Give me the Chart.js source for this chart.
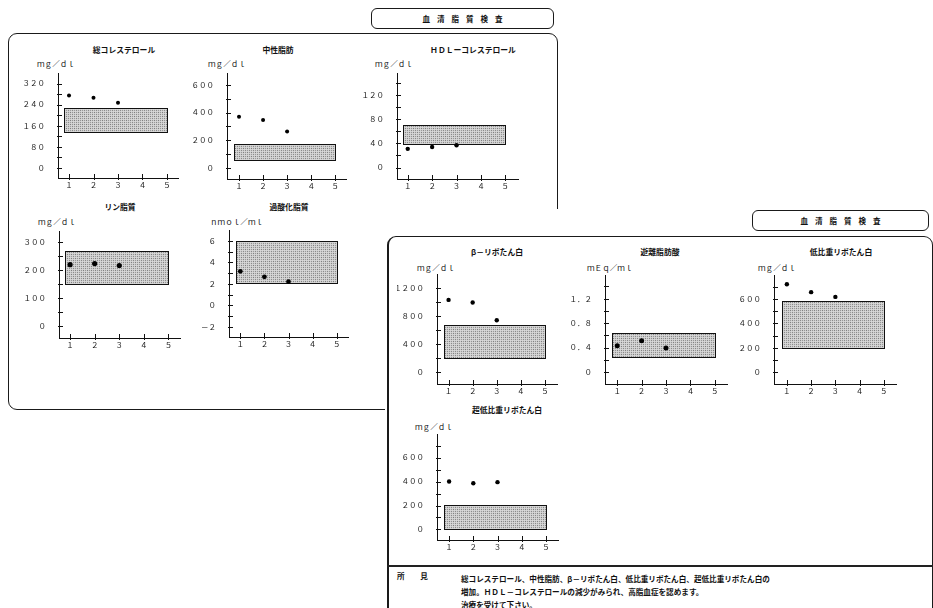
<!DOCTYPE html>
<html lang="ja">
<head>
<meta charset="utf-8">
<title>血清脂質検査</title>
<script src="https://cdn.jsdelivr.net/npm/chart.js@4.4.1/dist/chart.umd.min.js"></script>
<style>
  html, body { margin: 0; padding: 0; background: #fff; }
  body { position: relative; width: 933px; height: 608px; overflow: hidden;
         font-family: "Noto Sans CJK JP", "Noto Sans", sans-serif; color: #111; }
  .panel { position: absolute; border: 1px solid #1a1a1a; border-radius: 9px; box-sizing: border-box; }
  .tbox { position: absolute; border: 1px solid #1a1a1a; border-radius: 6px; box-sizing: border-box;
          background: #fff; text-align: center; font-weight: bold; font-size: 7.5px;
          letter-spacing: 7px; text-indent: 7px; }
  .sheet { position: absolute; background: #fff; }
  .ttl { position: absolute; font-weight: bold; font-size: 7.8px; white-space: nowrap;
         transform: translate(-50%, -50%); }
  .unit { position: absolute; font-size: 7.6px; white-space: nowrap; transform: translateY(-50%); }
  .note { position: absolute; font-weight: bold; font-size: 7.6px; white-space: nowrap; transform: translateY(-50%); }
  canvas { position: absolute; }
</style>
</head>
<body>
<script>
// ---- test data: three visits per lipid test ----
const visits = [1, 2, 3];
const xTickValues = [1, 2, 3, 4, 5];

const chartTitles = ['総コレステロール', '中性脂肪', 'ＨＤＬーコレステロール', 'リン脂質', '過酸化脂質',
                     'β－リポたん白', '遊離脂肪酸', '低比重リポたん白', '超低比重リポたん白'];
const unitLabels  = ['ｍｇ／ｄｌ', 'ｍｇ／ｄｌ', 'ｍｇ／ｄｌ', 'ｍｇ／ｄｌ', 'ｎｍｏｌ／ｍｌ',
                     'ｍｇ／ｄｌ', 'ｍＥｑ／ｍｌ', 'ｍｇ／ｄｌ', 'ｍｇ／ｄｌ'];

const totalCholesterol = [275, 266, 247];
const triglyceride     = [369, 347, 263];
const hdlCholesterol   = [31, 34, 37];
const phospholipid     = [220, 224, 217];
const lipidPeroxide    = [3.16, 2.65, 2.2];
const betaLipoprotein  = [1030, 992, 739];
const freeFattyAcid    = [0.43, 0.51, 0.39];
const ldl              = [723, 658, 619];
const vldl             = [400, 386, 395];

// normal range of each test (lower / upper limit)
const normalLow  = [137, 60, 39, 150, 2.05, 192, 0.246, 195, 5];
const normalHigh = [229, 176, 71, 269, 6, 672, 0.64, 584, 208];

// y axis: labelled tick step, minor tick step and axis range
const yLabelStep = [80, 200, 40, 100, 2, 400, 0.4, 200, 200];
const yMinorStep = [40, 100, 20, 50, 1, 200, 0.2, 100, 100];
const yRangeMin  = [-38, -80, -19, -41, -2.93, -174, -0.198, -98, -88];
const yRangeMax  = [358, 682, 156, 338, 6.95, 1394, 1.58, 795, 793];

const seriesList = [totalCholesterol, triglyceride, hdlCholesterol, phospholipid, lipidPeroxide,
                    betaLipoprotein, freeFattyAcid, ldl, vldl];

const remarkHead = '所　見';
const remarkLines = [
  '総コレステロール、中性脂肪、β－リポたん白、低比重リポたん白、超低比重リポたん白の',
  '増加。ＨＤＬ－コレステロールの減少がみられ、高脂血症を認めます。',
  '治療を受けて下さい。'
];
const sheetTitle = '血清脂質検査';

// ---- page layout (plot box in page pixels, x range, text anchors) ----
const layout = [
  { l: 58,  r: 178, t: 72,  b: 178, xMin: 0.55, xMax: 5.45, tx: 124, ty: 49,  ux: 37,  uy: 63,  pr: 2.0, page: 1 },
  { l: 227, r: 346, t: 72,  b: 179, xMin: 0.5,  xMax: 5.45, tx: 278, ty: 49,  ux: 208, uy: 63,  pr: 2.0, page: 1 },
  { l: 397, r: 518, t: 72,  b: 179, xMin: 0.56, xMax: 5.52, tx: 473, ty: 49,  ux: 375, uy: 63,  pr: 2.2, page: 1 },
  { l: 59,  r: 180, t: 230, b: 338, xMin: 0.55, xMax: 5.47, tx: 120, ty: 206, ux: 38,  uy: 221, pr: 2.6, page: 1 },
  { l: 229, r: 348, t: 229, b: 337, xMin: 0.53, xMax: 5.47, tx: 289, ty: 206, ux: 210, uy: 221, pr: 2.4, page: 1 },
  { l: 437, r: 557, t: 273, b: 384, xMin: 0.52, xMax: 5.5,  tx: 497, ty: 251, ux: 417, uy: 267, pr: 2.2, page: 2 },
  { l: 605, r: 727, t: 274, b: 384, xMin: 0.5,  xMax: 5.5,  tx: 660, ty: 251, ux: 587, uy: 267, pr: 2.5, page: 2 },
  { l: 774, r: 896, t: 274, b: 384, xMin: 0.47, xMax: 5.5,  tx: 841, ty: 251, ux: 758, uy: 267, pr: 2.2, page: 2 },
  { l: 437, r: 558, t: 433, b: 540, xMin: 0.5,  xMax: 5.5,  tx: 507, ty: 409, ux: 415, uy: 426, pr: 2.2, page: 2 }
];
const bandFrom = 0.8, bandTo = 5;
const Y_AXIS_W = 40, X_AXIS_H = 14, PAD_TOP = 8, PAD_RIGHT = 6;
const INK = '#111';
const tickFont = { family: '"Noto Sans CJK JP", sans-serif', size: 7.5 };

// ---- frames ----
function addDiv(cls, css, text) {
  const d = document.createElement('div');
  d.className = cls;
  Object.assign(d.style, css);
  if (text !== undefined) d.textContent = text;
  document.body.appendChild(d);
  return d;
}
addDiv('panel', { left: '8px', top: '33px', width: '550px', height: '377px', zIndex: 1 });
addDiv('tbox', { left: '371px', top: '8px', width: '183px', height: '21px', lineHeight: '19px', zIndex: 1 }, sheetTitle);
addDiv('sheet', { left: '385px', top: '209px', width: '548px', height: '399px', zIndex: 2 });
addDiv('panel', { left: '387px', top: '236px', width: '546px', height: '420px', zIndex: 3,
                  borderLeftWidth: '2px' });
addDiv('tbox', { left: '752px', top: '210px', width: '177px', height: '21px', lineHeight: '19px', zIndex: 3 }, sheetTitle);
addDiv('sheet', { left: '387px', top: '565px', width: '546px', height: '2px', background: '#222', zIndex: 3 });
addDiv('note', { left: '397px', top: '575px', letterSpacing: '4px', zIndex: 3 }, remarkHead);
remarkLines.forEach((s, i) => addDiv('note', { left: '461px', top: (578 + i * 13) + 'px', zIndex: 3 }, s));

// ---- stippled fill for the normal range ----
function makeStipple() {
  const c = document.createElement('canvas');
  c.width = 4; c.height = 4;
  const g = c.getContext('2d');
  const levels = [
    [128, 206, 150, 206],
    [206, 216, 206, 216],
    [155, 206, 138, 206],
    [206, 216, 206, 216]
  ];
  const img = g.createImageData(4, 4);
  for (let yy = 0; yy < 4; yy++) for (let xx = 0; xx < 4; xx++) {
    const k = (yy * 4 + xx) * 4, v = levels[yy][xx];
    img.data[k] = v; img.data[k + 1] = v; img.data[k + 2] = v; img.data[k + 3] = 255;
  }
  g.putImageData(img, 0, 0);
  return c;
}
const stippleTile = makeStipple();

// normal range box drawn through the chart scales
const refBand = {
  id: 'refBand',
  beforeDatasetsDraw(chart, args, opts) {
    const { ctx, scales: { x, y } } = chart;
    const l = Math.round(x.getPixelForValue(opts.from));
    const r = Math.round(x.getPixelForValue(opts.to));
    const t = Math.round(y.getPixelForValue(opts.high));
    const b = Math.round(y.getPixelForValue(opts.low));
    ctx.save();
    ctx.fillStyle = ctx.createPattern(stippleTile, 'repeat');
    ctx.fillRect(l, t, r - l, b - t);
    ctx.strokeStyle = INK;
    ctx.lineWidth = 1;
    ctx.strokeRect(l + 0.5, t + 0.5, r - l, b - t);
    ctx.restore();
  }
};

// short tick marks pointing into the plot
const innerTicks = {
  id: 'innerTicks',
  afterDraw(chart) {
    const { ctx, chartArea: a, scales: { x, y } } = chart;
    ctx.save();
    ctx.strokeStyle = INK;
    ctx.lineWidth = 1;
    ctx.beginPath();
    y.ticks.forEach(tk => {
      const py = Math.round(y.getPixelForValue(tk.value)) + 0.5;
      ctx.moveTo(a.left - 1, py); ctx.lineTo(a.left + 4, py);
    });
    x.ticks.forEach(tk => {
      const px = Math.round(x.getPixelForValue(tk.value)) + 0.5;
      ctx.moveTo(px, a.bottom - 4); ctx.lineTo(px, a.bottom + 2);
    });
    ctx.stroke();
    ctx.restore();
  }
};

// digits as full-width characters
const fullWidth = s => s.replace(/[0-9.\-]/g, c =>
  c === '.' ? '．' : c === '-' ? '－' : String.fromCharCode(c.charCodeAt(0) + 0xFEE0));

// tick values on whole multiples of the minor step inside the axis range
function stepTicks(min, max, step) {
  const out = [];
  for (let k = Math.ceil(min / step - 1e-9); k * step <= max + 1e-9; k++) {
    out.push({ value: Math.round(k * step * 1e6) / 1e6 });
  }
  return out;
}

seriesList.forEach((values, i) => {
  const L = layout[i];
  addDiv('ttl', { left: L.tx + 'px', top: L.ty + 'px', zIndex: L.page === 2 ? 3 : 1 }, chartTitles[i]);
  addDiv('unit', { left: L.ux + 'px', top: L.uy + 'px', zIndex: L.page === 2 ? 3 : 1 }, unitLabels[i]);

  const cv = document.createElement('canvas');
  const left = L.l - Y_AXIS_W, top = L.t - PAD_TOP;
  const w = L.r + PAD_RIGHT - left, h = L.b + X_AXIS_H - top;
  cv.width = w; cv.height = h;
  Object.assign(cv.style, { left: left + 'px', top: top + 'px', width: w + 'px', height: h + 'px',
                            zIndex: L.page === 2 ? 4 : 1 });
  document.body.appendChild(cv);

  const labelStep = yLabelStep[i];
  new Chart(cv, {
    type: 'scatter',
    data: {
      datasets: [{
        data: visits.map((v, k) => ({ x: v, y: values[k] })),
        pointRadius: L.pr,
        pointBackgroundColor: '#000',
        pointBorderWidth: 0,
        showLine: false
      }]
    },
    options: {
      responsive: false,
      animation: false,
      devicePixelRatio: 1,
      events: [],
      layout: { autoPadding: false, padding: { left: 0, top: PAD_TOP, right: PAD_RIGHT, bottom: 0 } },
      plugins: {
        legend: { display: false },
        tooltip: { enabled: false },
        refBand: { low: normalLow[i], high: normalHigh[i], from: bandFrom, to: bandTo }
      },
      scales: {
        x: {
          type: 'linear', min: L.xMin, max: L.xMax,
          grid: { display: false },
          border: { display: true, color: INK, width: 1 },
          afterBuildTicks(s) { s.ticks = xTickValues.map(v => ({ value: v })); },
          ticks: { autoSkip: false, maxRotation: 0, padding: -5,
                   color: INK, font: tickFont, callback: v => fullWidth(String(v)) },
          afterFit(s) { s.height = X_AXIS_H; }
        },
        y: {
          type: 'linear', min: yRangeMin[i], max: yRangeMax[i],
          grid: { display: false },
          border: { display: true, color: INK, width: 1 },
          afterBuildTicks(s) { s.ticks = stepTicks(yRangeMin[i], yRangeMax[i], yMinorStep[i]); },
          ticks: {
            autoSkip: false, padding: 5,
            color: INK, font: tickFont,
            callback(v) {
              const k = v / labelStep;
              if (Math.abs(k - Math.round(k)) > 1e-6) return '';
              return fullWidth(String(Math.round(v * 100) / 100));
            }
          },
          afterFit(s) { s.width = Y_AXIS_W; }
        }
      }
    },
    plugins: [refBand, innerTicks]
  });
});
</script>
</body>
</html>
